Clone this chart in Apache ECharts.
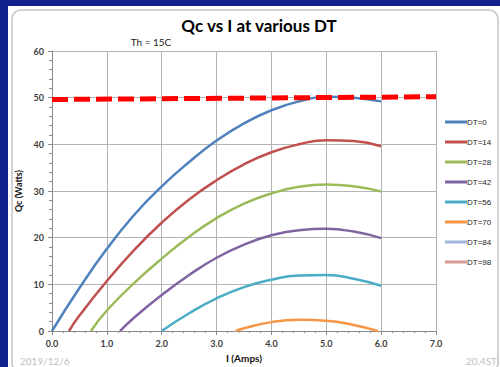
<!DOCTYPE html>
<html>
<head>
<meta charset="utf-8">
<script src="https://cdn.jsdelivr.net/npm/echarts@6/dist/echarts.min.js"></script>
<style>
html,body{margin:0;padding:0;background:#10208f;}
#chart{width:500px;height:367px;}
</style>
</head>
<body>
<div id="chart"></div>
<script>
// ---- data ----
const seriesNames = ['DT=0','DT=14','DT=28','DT=42','DT=56','DT=70','DT=84','DT=98'];
const seriesColors = ['#4F81BD','#C0504D','#9BBB59','#8064A2','#4BACC6','#F79646','#A0B4DC','#DA9A98'];

const iDT0  = [0, 0.5, 1, 1.5, 2, 2.5, 3, 3.5, 4, 4.5, 5, 5.5, 6];
const qcDT0 = [0, 9.2, 17.6, 24.9, 31.0, 36.2, 40.8, 44.5, 47.3, 49.2, 50.2, 50.0, 49.2];

const iDT14  = [0.31, 0.5, 1, 1.5, 2, 2.5, 3, 3.5, 4, 4.5, 5, 5.5, 6];
const qcDT14 = [0, 3.3, 10.7, 17.4, 23.2, 28.2, 32.3, 35.7, 38.3, 40.0, 40.9, 40.7, 39.6];

const iDT28  = [0.71, 1, 1.5, 2, 2.5, 3, 3.5, 4, 4.5, 5, 5.5, 6];
const qcDT28 = [0, 4.4, 10.3, 15.5, 20.2, 24.2, 27.3, 29.5, 30.9, 31.4, 31.0, 29.9];

const iDT42  = [1.24, 1.5, 2, 2.5, 3, 3.5, 4, 4.5, 5, 5.5, 6];
const qcDT42 = [0, 2.9, 7.7, 12.0, 15.7, 18.5, 20.5, 21.6, 21.9, 21.3, 19.9];

const iDT56  = [2.0, 2.5, 3, 3.5, 4, 4.5, 5, 5.5, 6];
const qcDT56 = [0, 3.8, 7.0, 9.4, 11.0, 11.9, 12.0, 11.2, 9.7];

const iDT70  = [3.35, 3.5, 4, 4.5, 5, 5.5, 5.94];
const qcDT70 = [0, 0.6, 1.9, 2.4, 2.2, 1.3, 0];

const iDT84  = [];
const qcDT84 = [];
const iDT98  = [];
const qcDT98 = [];

const limitI  = [0, 7];
const limitQc = [49.6, 50.2];

const xTicks = [0, 1, 2, 3, 4, 5, 6, 7];
const yTicks = [0, 10, 20, 30, 40, 50, 60];

const titleText = 'Qc vs I at various DT';
const subTitleText = 'Th = 15C';
const xName = 'I (Amps)';
const yName = 'Qc (Watts)';
const dateText = '2019/12/6';
const cornerText = '20.4ST';

// ---- build ----
function pairs(xs, ys){ return xs.map((x,i)=>[x, ys[i]]); }
const allI  = [iDT0, iDT14, iDT28, iDT42, iDT56, iDT70, iDT84, iDT98];
const allQc = [qcDT0, qcDT14, qcDT28, qcDT42, qcDT56, qcDT70, qcDT84, qcDT98];

const FONT = 'Lato, "Liberation Sans", sans-serif';

const series = seriesNames.map((name, k) => ({
  name: name,
  type: 'line',
  data: pairs(allI[k], allQc[k]),
  smooth: 0.5,
  showSymbol: false,
  symbol: 'none',
  clip: true,
  lineStyle: { color: seriesColors[k], width: 2.5 },
  itemStyle: { color: seriesColors[k] },
  z: 3
}));

series.push({
  name: 'limit',
  type: 'line',
  data: pairs(limitI, limitQc),
  symbol: 'none',
  lineStyle: { color: '#FF0000', width: 5, type: [16, 6] },
  itemStyle: { color: '#FF0000' },
  z: 4,
  silent: true
});

const chart = echarts.init(document.getElementById('chart'), null, { renderer: 'svg' });
chart.setOption({
  animation: false,
  backgroundColor: '#10208f',
  graphic: [
    { type: 'rect', shape: { x: 8, y: 6, width: 492, height: 361 }, style: { fill: '#ffffff' }, z: -10 },
    { type: 'rect', shape: { x: 12, y: 10, width: 486, height: 362, r: 9 }, style: { fill: '#ffffff', stroke: '#c4c4c4', lineWidth: 1.5 }, z: -9 },
    { type: 'text', x: 259, y: 25, style: { text: titleText, font: 'bold 17px ' + FONT, fill: '#000000', align: 'center', verticalAlign: 'middle' } },
    { type: 'text', x: 151, y: 42, style: { text: subTitleText, font: '10px ' + FONT, fill: '#222222', align: 'center', verticalAlign: 'middle' } },
    { type: 'text', x: 20, y: 361, style: { text: dateText, font: '10px ' + FONT, fill: '#c0c0c0', align: 'left', verticalAlign: 'middle' } },
    { type: 'text', x: 497, y: 361, style: { text: cornerText, font: '10px ' + FONT, fill: '#c0c0c0', align: 'right', verticalAlign: 'middle' } }
  ],
  legend: {
    orient: 'vertical',
    left: 445,
    top: 117,
    data: seriesNames,
    icon: 'rect',
    itemWidth: 22,
    itemHeight: 3,
    itemGap: 10,
    padding: 0,
    textStyle: { fontSize: 8, lineHeight: 10, color: '#222', fontFamily: '"Liberation Sans", sans-serif', padding: [0,0,0,-5] },
    selectedMode: false
  },
  grid: { left: 52, right: 64, top: 51, bottom: 36, outerBoundsMode: 'none', containLabel: false },
  xAxis: {
    type: 'value', min: xTicks[0], max: xTicks[xTicks.length-1], interval: 1,
    name: xName, nameLocation: 'middle', nameGap: 21,
    nameTextStyle: { fontSize: 10, fontWeight: 'bold', color: '#111', fontFamily: FONT },
    axisLine: { show: true, lineStyle: { color: '#8a8a8a', width: 1 } },
    axisTick: { show: true, length: 4, lineStyle: { color: '#8a8a8a' } },
    minorTick: { show: true, splitNumber: 5, length: 2, lineStyle: { color: '#8a8a8a' } },
    axisLabel: { margin: 8, fontSize: 9, fontWeight: 'bold', color: '#404040', fontFamily: FONT, formatter: v => v.toFixed(1) },
    splitLine: { show: true, lineStyle: { color: '#b4b4b4', width: 1 } }
  },
  yAxis: {
    type: 'value', min: yTicks[0], max: yTicks[yTicks.length-1], interval: 10,
    name: yName, nameLocation: 'middle', nameGap: 25,
    nameTextStyle: { fontSize: 9, fontWeight: 'bold', color: '#111', fontFamily: FONT },
    axisLine: { show: true, lineStyle: { color: '#8a8a8a', width: 1 } },
    axisTick: { show: true, length: 4, lineStyle: { color: '#8a8a8a' } },
    minorTick: { show: true, splitNumber: 5, length: 3, lineStyle: { color: '#8a8a8a' } },
    axisLabel: { margin: 8, fontSize: 9, fontWeight: 'bold', color: '#404040', fontFamily: FONT },
    splitLine: { show: true, lineStyle: { color: '#b4b4b4', width: 1 } }
  },
  series: series
});
</script>
</body>
</html>
